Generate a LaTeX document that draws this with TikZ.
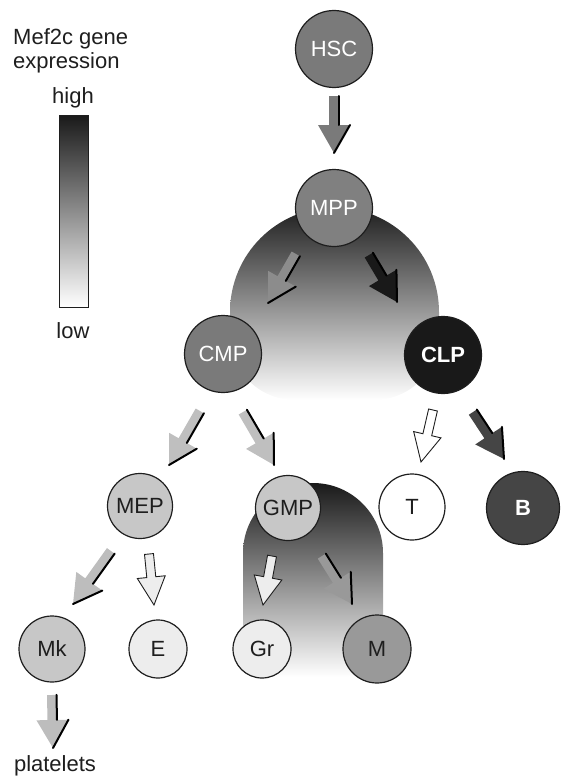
\documentclass[tikz,border=0pt]{standalone}
\usepackage{fontspec}
\setmainfont{Liberation Sans}
\usetikzlibrary{calc}
\definecolor{ink}{HTML}{1E1E1E}
\newcommand\shadowarrow[3]{%
  \coordinate (aH) at ($(#3)!28pt!(#2)$);
  \fill[#1] ($(#2)!5pt!90:(#3)$) -- ($(aH)!5pt!90:(#3)$) -- ($(aH)!16pt!90:(#3)$) -- (#3)
     -- ($(aH)!16pt!-90:(#3)$) -- ($(aH)!5pt!-90:(#3)$) -- ($(#2)!5pt!-90:(#3)$) -- cycle;
  \draw[shadowedge] ($(#2)!4.5pt!90:(#3)$) -- ($(aH)!4.5pt!90:(#3)$);
  \draw[shadowedge] ($(aH)!16pt!90:(#3)$) -- (#3);
}
\newcommand\outlinearrow[3]{%
  \coordinate (aH) at ($(#3)!28pt!(#2)$);
  \filldraw[#1, draw=ink, line width=0.9pt, line join=miter] ($(#2)!4.5pt!90:(#3)$) -- ($(aH)!4.5pt!90:(#3)$) -- ($(aH)!14pt!90:(#3)$) -- (#3)
     -- ($(aH)!14pt!-90:(#3)$) -- ($(aH)!4.5pt!-90:(#3)$) -- ($(#2)!4.5pt!-90:(#3)$) -- cycle;
}
\begin{document}
\begin{tikzpicture}[x=1pt,y=1pt,
  cell/.style={circle, draw=ink, line width=1.2pt, inner sep=0pt, font=\fontsize{22}{24}\selectfont},
  lbl/.style={inner sep=0pt, text=ink, font=\fontsize{22}{24}\selectfont},
  shadowedge/.style={draw=black, line width=2pt, line cap=round}]
\useasboundingbox (0,0) rectangle (561,-776);
% legend
\node[lbl, anchor=base west] (lg1) at (13,-45) {Mef2c gene};
\node[lbl, anchor=base west] (lg2) at (13,-68) {expression};
\node[lbl, anchor=base] (hi) at (73,-103) {high};
\node[lbl, anchor=base] (lo) at (73,-338) {low};
\shade[top color=black!90, bottom color=white] (59,-115) rectangle (88,-307);
\draw[ink, line width=0.8pt] (59,-115) rectangle (88,-307);
% gradient blobs
\shade[top color=black!88, bottom color=white]
  (230,-312) arc[start angle=180,end angle=0,radius=104.5pt] -- (439,-335)
  arc[start angle=0,end angle=-90,radius=65pt] -- (295,-400)
  arc[start angle=270,end angle=180,radius=65pt] -- cycle;
\shade[top color=black!90, bottom color=white]
  (243,-553) arc[start angle=180,end angle=0,radius=70pt] -- (383,-637)
  arc[start angle=0,end angle=-90,radius=40pt] -- (283,-677)
  arc[start angle=270,end angle=180,radius=40pt] -- cycle;
% arrow end points
\coordinate (hscO) at (334,-96);  \coordinate (mppI) at (334,-153);
\coordinate (mppL) at (296,-254); \coordinate (cmpI) at (268,-303);
\coordinate (mppR) at (369,-255); \coordinate (clpI) at (397,-302);
\coordinate (cmpL) at (200,-411); \coordinate (mepI) at (169,-465);
\coordinate (cmpR) at (243,-412); \coordinate (gmpI) at (274,-465);
\coordinate (clpL) at (433,-410); \coordinate (tI)   at (421,-462);
\coordinate (clpR) at (473,-412); \coordinate (bI)   at (504,-459);
\coordinate (mepL) at (111,-551); \coordinate (mkI)  at (73,-604);
\coordinate (mepR) at (149,-554); \coordinate (eI)   at (154,-605);
\coordinate (gmpL) at (272,-556); \coordinate (grI)  at (263,-605);
\coordinate (gmpR) at (322,-556); \coordinate (mI)   at (352,-604);
\coordinate (mkO)  at (52,-695);  \coordinate (plI)  at (53,-748);
% arrows
\shadowarrow{fill=black!52}{hscO}{mppI}
\shadowarrow{fill=black!45}{mppL}{cmpI}
\shadowarrow{fill=black!90}{mppR}{clpI}
\shadowarrow{fill=black!25}{cmpL}{mepI}
\shadowarrow{fill=black!25}{cmpR}{gmpI}
\outlinearrow{fill=white}{clpL}{tI}
\shadowarrow{fill=black!73}{clpR}{bI}
\shadowarrow{fill=black!26}{mepL}{mkI}
\outlinearrow{fill=black!7}{mepR}{eI}
\outlinearrow{fill=black!7}{gmpL}{grI}
\shadowarrow{fill=black!40}{gmpR}{mI}
\shadowarrow{fill=black!26}{mkO}{plI}
% cells
\node[cell, minimum size=77pt, fill=black!52, text=white] (HSC) at (334,-49) {HSC};
\node[cell, minimum size=77pt, fill=black!50, text=white] (MPP) at (334,-208) {MPP};
\node[cell, minimum size=77pt, fill=black!52, text=white] (CMP) at (223,-354) {CMP};
\node[cell, minimum size=77pt, fill=black!90, text=white, font=\fontsize{22}{24}\selectfont\bfseries] (CLP) at (443,-355) {CLP};
\node[cell, minimum size=65pt, fill=black!22, text=ink] (MEP) at (140,-506) {MEP};
\node[cell, minimum size=65pt, fill=black!22, text=ink] (GMP) at (288,-508) {GMP};
\node[cell, minimum size=66pt, fill=white, text=ink] (T) at (412,-507) {T};
\node[cell, minimum size=73pt, fill=black!73, text=white, font=\fontsize{22}{24}\selectfont\bfseries] (B) at (523,-508) {B};
\node[cell, minimum size=66pt, fill=black!22, text=ink] (Mk) at (52,-649) {Mk};
\node[cell, minimum size=58pt, fill=black!7, text=ink] (E) at (158,-649) {E};
\node[cell, minimum size=58pt, fill=black!7, text=ink] (Gr) at (262,-649) {Gr};
\node[cell, minimum size=68pt, fill=black!40, text=ink] (M) at (377,-649) {M};
\node[lbl, anchor=base] (pl) at (55,-771) {platelets};
\end{tikzpicture}
\end{document}
